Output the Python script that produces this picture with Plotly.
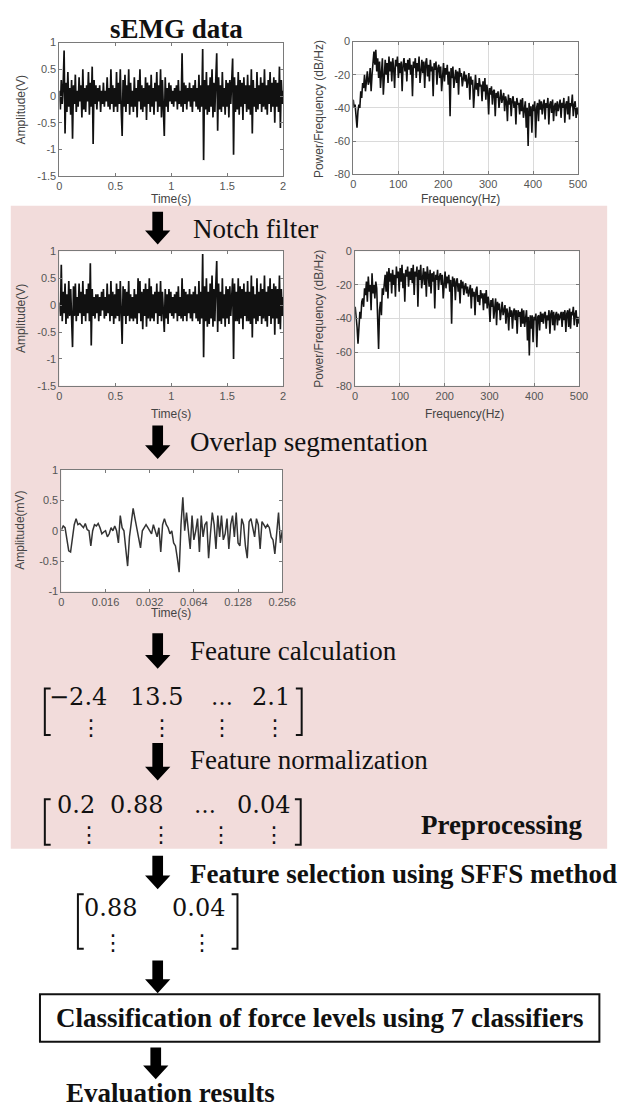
import numpy as np
import plotly.graph_objects as go

W, H = 627, 1111

# ---------------- data ----------------
raw_amplitude = [
    0.1, -0.25, 0.3, -0.15, 0.2, 0.85, -0.7, 0.25, -0.3, 0.45, -0.2, 0.15, -0.35, 0.3, -0.8, 0.2, -0.15, 0.4, -0.3, 0.1,
    -0.2, 0.35, -0.1, 0.2, -0.4, 0.5, -0.25, 0.15, -0.3, 0.2, -0.1, 0.45, -0.35, 0.25, -0.2, 0.55, -0.9, 0.3, -0.15, 0.2,
    -0.25, 0.15, -0.1, 0.2, -0.3, 0.1, -0.15, 0.25, -0.2, 0.1, -0.1, 0.35, -0.2, 0.15, -0.25, 0.5, -0.15, 0.2, -0.3, 0.15,
    -0.2, 0.45, -0.3, 0.25, -0.15, 0.5, -0.25, -0.75, 0.3, -0.2, 0.4, -0.3, 0.2, -0.15, 0.5, -0.35, 0.25, -0.2, 0.1, -0.3,
    0.35, -0.2, 0.15, -0.4, 0.3, -0.1, 0.5, -0.25, 0.2, -0.3, 0.15, -0.2, 0.35, -0.45, 0.25, -0.15, 0.2, -0.3, 0.4, -0.2,
    0.15, -0.35, 0.25, -0.1, 0.45, -0.3, 0.2, -0.2, 0.5, -0.4, 0.3, -0.25, -0.75, 0.35, -0.2, 0.15, -0.3, 0.25, -0.1, 0.2,
    -0.15, 0.1, -0.2, 0.15, -0.1, 0.2, -0.25, 0.3, -0.15, 0.1, -0.2, 0.8, -0.3, 0.25, -0.15, 0.2, -0.25, 0.15, -0.1, 0.25,
    -0.2, 0.15, -0.3, 0.2, -0.1, 0.3, -0.2, 0.15, -0.25, 0.4, -0.3, 0.2, -0.2, 0.88, -1.2, 0.3, -0.25, 0.45, -0.35, 0.2,
    -0.3, 0.35, -0.2, 0.5, -0.4, 0.25, -0.3, 0.3, 0.8, -0.65, 0.35, -0.25, 0.2, -0.3, 0.45, -0.2, 0.15, -0.35, 0.3, -0.2,
    0.25, -0.4, 0.3, -0.15, 0.2, 0.7, -1.1, 0.35, -0.3, 0.2, -0.25, 0.45, -0.35, 0.3, -0.2, 0.25, -0.45, 0.35, -0.15, 0.2,
    -0.3, 0.4, -0.25, 0.2, -0.35, 0.5, -0.7, 0.3, -0.2, 0.15, -0.3, 0.45, -0.25, 0.2, -0.15, 0.35, -0.3, 0.25, -0.2, 0.5,
    -0.25, 0.2, -0.35, 0.3, -0.15, 0.45, -0.3, 0.25, -0.2, 0.35, -0.5, 0.3, -0.2, 0.25, -0.3, 0.55, -0.6, 0.3, -0.15, 0.1,
]

filtered_amplitude = [
    0.05, -0.2, 0.75, -0.3, 0.25, -0.15, 0.4, -0.35, 0.2, -0.25, 0.45, -0.2, 0.3, -0.25, -0.78, 0.35, -0.2, 0.4, -0.3, 0.15,
    -0.2, 0.4, -0.15, 0.25, -0.35, 0.45, -0.2, 0.2, -0.3, 0.3, -0.15, 0.4, -0.3, 0.78, -0.75, 0.3, -0.2, 0.15, -0.25, 0.2,
    -0.15, 0.2, -0.3, 0.15, -0.2, 0.25, -0.1, 0.3, -0.25, 0.15, -0.2, 0.4, -0.15, 0.2, -0.3, 0.45, -0.2, 0.25, -0.35, 0.2,
    -0.25, 0.4, -0.2, 0.3, -0.3, 0.45, -0.25, -0.72, 0.35, -0.2, 0.3, -0.35, 0.25, -0.2, 0.45, -0.3, 0.2, -0.25, 0.15, -0.3,
    0.3, -0.25, 0.2, -0.35, 0.5, -0.15, 0.45, -0.3, 0.25, -0.45, 0.3, -0.2, 0.4, -0.4, 0.3, -0.25, 0.5, -0.3, 0.35, -0.25,
    0.2, -0.3, 0.25, -0.15, 0.4, -0.35, 0.25, -0.2, 0.45, -0.3, 0.25, -0.3, -0.5, 0.3, -0.25, 0.2, -0.35, 0.3, -0.15, 0.25,
    -0.2, 0.15, -0.25, 0.2, -0.15, 0.25, -0.3, 0.35, -0.2, 0.15, -0.25, 0.5, -0.3, 0.3, -0.2, 0.25, -0.3, 0.2, -0.15, 0.3,
    -0.25, 0.2, -0.3, 0.25, -0.15, 0.35, -0.25, 0.2, -0.3, 0.45, -0.35, 0.25, -0.25, 0.95, -0.97, 0.35, -0.3, 0.5, -0.4, 0.25,
    -0.35, 0.4, -0.25, 0.55, -0.4, 0.3, -0.3, 0.35, 0.82, -0.5, 0.4, -0.3, 0.25, -0.35, 0.5, -0.25, 0.2, -0.4, 0.35, -0.25,
    0.3, -0.35, 0.35, -0.2, 0.25, 0.5, -1.0, 0.4, -0.3, 0.25, -0.3, 0.5, -0.35, 0.35, -0.25, 0.3, -0.45, 0.4, -0.2, 0.25,
    -0.3, 0.45, -0.3, 0.25, -0.35, 0.55, -0.6, 0.35, -0.25, 0.2, -0.35, 0.5, -0.3, 0.25, -0.2, 0.4, -0.35, 0.3, -0.25, 0.55,
    -0.3, 0.25, -0.4, 0.35, -0.2, 0.5, -0.35, 0.3, -0.25, 0.4, -0.55, 0.35, -0.25, 0.3, -0.35, 0.55, -0.45, 0.3, -0.2, 0.15,
]

raw_psd = [
    -35, -40, -38, -48, -52, -42, -38, -40, -30, -34, -25, -28, -20, -30, -22, -18, -26, -24, -16, -30,
    -20, -12, -6, -14, -5, -18, -10, -22, -12, -28, -14, -10, -32, -15, -11, -20, -13, -25, -9, -18,
    -12, -24, -10, -16, -28, -11, -15, -9, -22, -13, -19, -12, -30, -14, -10, -18, -13, -24, -11, -17,
    -10, -20, -14, -33, -12, -16, -10, -22, -13, -18, -9, -25, -14, -11, -19, -12, -28, -13, -10, -21,
    -14, -24, -11, -18, -15, -33, -13, -17, -12, -26, -16, -14, -22, -15, -30, -17, -13, -24, -16, -20,
    -14, -26, -18, -45, -16, -22, -15, -28, -19, -17, -25, -18, -32, -16, -21, -19, -27, -20, -18, -24,
    -20, -28, -22, -19, -35, -21, -26, -23, -40, -24, -20, -29, -25, -33, -22, -27, -26, -36, -24, -30,
    -22, -35, -26, -30, -44, -28, -32, -27, -38, -30, -29, -45, -31, -34, -30, -40, -32, -29, -37, -33,
    -31, -42, -33, -36, -48, -32, -38, -34, -45, -35, -33, -40, -36, -50, -34, -38, -37, -44, -35, -42,
    -34, -46, -38, -36, -52, -40, -63, -37, -45, -39, -55, -38, -42, -36, -58, -40, -37, -48, -35, -41,
    -36, -44, -38, -35, -47, -37, -40, -34, -50, -38, -36, -43, -35, -48, -39, -37, -45, -36, -42, -38,
    -35, -46, -37, -40, -34, -49, -38, -36, -44, -33, -47, -37, -39, -32, -45, -38, -36, -46, -40, -44,
]

filtered_psd = [
    -33, -38, -45, -55, -42, -36, -40, -30, -28, -33, -22, -26, -18, -30, -15, -24, -20, -35, -13, -25,
    -20, -28, -18, -22, -40, -58, -35, -30, -38, -22, -26, -20, -14, -24, -12, -28, -10, -18, -13, -25,
    -11, -20, -14, -27, -9, -16, -12, -24, -10, -18, -8, -22, -13, -30, -11, -15, -9, -21, -12, -17,
    -10, -19, -8, -26, -12, -15, -9, -33, -11, -17, -8, -22, -13, -10, -20, -12, -27, -9, -14, -21,
    -11, -25, -13, -18, -12, -34, -14, -17, -11, -23, -15, -13, -20, -14, -28, -16, -12, -22, -15, -19,
    -14, -24, -17, -43, -15, -21, -16, -29, -18, -16, -24, -19, -31, -17, -22, -18, -26, -21, -19, -25,
    -21, -27, -23, -20, -34, -22, -27, -24, -38, -23, -21, -30, -26, -32, -23, -28, -25, -35, -25, -31,
    -23, -34, -27, -31, -42, -29, -33, -28, -40, -31, -28, -44, -30, -35, -31, -41, -33, -30, -38, -34,
    -32, -43, -34, -37, -47, -33, -39, -35, -46, -36, -34, -41, -35, -49, -35, -39, -36, -45, -34, -43,
    -35, -45, -37, -35, -53, -39, -62, -38, -46, -38, -54, -39, -41, -37, -57, -39, -38, -47, -36, -42,
    -37, -43, -37, -36, -46, -38, -41, -35, -49, -37, -35, -44, -36, -47, -38, -36, -44, -37, -41, -39,
    -36, -45, -36, -41, -35, -48, -37, -35, -45, -34, -46, -36, -38, -33, -44, -37, -35, -45, -39, -43,
]

segment_amplitude = [
    0.02, 0.08, 0.05, -0.15, -0.33, -0.35, -0.1, 0.1, 0.2, 0.1,
    0.12, 0.08, 0.05, 0.12, 0.02, 0.0, -0.25, 0.0, 0.1, 0.08,
    0.12, 0.05, -0.05, -0.02, 0.0, -0.1, -0.05, 0.05, 0.0, 0.08,
    0.0, -0.2, 0.25, 0.05, 0.0, -0.3, -0.58, -0.1, 0.1, 0.37,
    0.2, 0.05, -0.1, -0.28, 0.0, 0.05, 0.1, 0.05, 0.0, -0.05,
    0.1, 0.0, -0.1, 0.05, -0.35, 0.1, 0.2, 0.1, 0.05, -0.05,
    0.0, -0.2, -0.25, -0.45, -0.68, 0.1, 0.55, 0.0, 0.3, 0.0,
    -0.3, 0.25, -0.15, 0.0, 0.2, -0.35, 0.25, -0.1, 0.1, 0.15,
    -0.45, -0.05, 0.3, 0.1, -0.3, 0.25, -0.1, 0.25, -0.15, -0.05,
    0.2, -0.3, 0.1, 0.25, -0.1, 0.3, -0.2, -0.25, 0.2, 0.1,
    -0.25, -0.45, 0.15, 0.2, 0.05, -0.1, 0.2, 0.1, -0.3, 0.15,
    0.1, 0.05, 0.1, 0.05, -0.1, -0.15, -0.38, 0.0, 0.3, -0.2,
    0.0,
]

time_ticks = [0, 0.5, 1, 1.5, 2]
time_ticktext = ["0", "0.5", "1", "1.5", "2"]
amp_ticks = [-1.5, -1, -0.5, 0, 0.5, 1]
amp_ticktext = ["-1.5", "-1", "-0.5", "0", "0.5", "1"]
freq_ticks = [0, 100, 200, 300, 400, 500]
freq_ticktext = ["0", "100", "200", "300", "400", "500"]
psd_ticks = [-80, -60, -40, -20, 0]
psd_ticktext = ["-80", "-60", "-40", "-20", "0"]
seg_ticks = [0, 1, 2, 3, 4, 5]
seg_ticktext = ["0", "0.016", "0.032", "0.064", "0.128", "0.256"]
seg_yticks = [-1, -0.5, 0, 0.5, 1]
seg_yticktext = ["-1", "-0.5", "0", "0.5", "1"]

matrix_features = ["\u22122.4", "13.5", "2.1"]
matrix_normalized = ["0.2", "0.88", "0.04"]
matrix_selected = ["0.88", "0.04"]

duration_s = 2.0
nyquist_hz = 500
time_raw = np.linspace(0, duration_s, len(raw_amplitude))
time_filt = np.linspace(0, duration_s, len(filtered_amplitude))
freq_raw = np.linspace(0, nyquist_hz, len(raw_psd))
freq_filt = np.linspace(0, nyquist_hz, len(filtered_psd))
seg_pos = np.linspace(0, 5, len(segment_amplitude))

# ---------------- helpers ----------------
SERIF = "Liberation Serif, Times New Roman, serif"
SANS = "Liberation Sans, Arial, sans-serif"
MATH = "DejaVu Serif, serif"


def px(x):
    return x / W


def py(y):
    return 1 - y / H


def axstyle(**kw):
    d = dict(showline=True, mirror="ticks", linecolor="#7a7a7a", linewidth=1,
             ticks="inside", ticklen=3, tickcolor="#7a7a7a",
             tickfont=dict(family=SANS, size=11, color="#555555"),
             zeroline=False, showgrid=False, fixedrange=True)
    d.update(kw)
    return d


fig = go.Figure()
line_time = dict(color="#111111", width=1.7)
line_psd = dict(color="#111111", width=1.6)
fig.add_trace(go.Scatter(x=time_raw, y=raw_amplitude, mode="lines", line=line_time, xaxis="x", yaxis="y", hoverinfo="skip"))
fig.add_trace(go.Scatter(x=freq_raw, y=raw_psd, mode="lines", line=line_psd, xaxis="x2", yaxis="y2", hoverinfo="skip"))
fig.add_trace(go.Scatter(x=time_filt, y=filtered_amplitude, mode="lines", line=line_time, xaxis="x3", yaxis="y3", hoverinfo="skip"))
fig.add_trace(go.Scatter(x=freq_filt, y=filtered_psd, mode="lines", line=line_psd, xaxis="x4", yaxis="y4", hoverinfo="skip"))
fig.add_trace(go.Scatter(x=seg_pos, y=segment_amplitude, mode="lines", line=dict(color="#333333", width=1.5),
                         xaxis="x5", yaxis="y5", hoverinfo="skip"))

boxes = {
    "A": (58, 288, 37, 172),
    "B": (360, 591, 36, 170),
    "C": (58, 288, 248, 384),
    "D": (362, 592, 248, 384),
    "E": (60, 287, 469, 592),
}


def xd(k):
    b = boxes[k]
    return [px(b[0]), px(b[1])]


def yd(k):
    b = boxes[k]
    return [py(b[3]), py(b[2])]


grid = dict(showgrid=True, gridcolor="#dadada", gridwidth=1)

layout = dict(
    width=W, height=H, margin=dict(l=0, r=0, t=0, b=0), autosize=False,
    paper_bgcolor="white", plot_bgcolor="white", showlegend=False,
    xaxis=axstyle(domain=xd("A"), anchor="y", range=[0, 2], tickvals=time_ticks, ticktext=time_ticktext),
    yaxis=axstyle(domain=yd("A"), anchor="x", range=[-1.5, 1], tickvals=amp_ticks, ticktext=amp_ticktext),
    xaxis2=axstyle(domain=xd("B"), anchor="y2", range=[0, 500], tickvals=freq_ticks, ticktext=freq_ticktext, **grid),
    yaxis2=axstyle(domain=yd("B"), anchor="x2", range=[-80, 0], tickvals=psd_ticks, ticktext=psd_ticktext, **grid),
    xaxis3=axstyle(domain=xd("C"), anchor="y3", range=[0, 2], tickvals=time_ticks, ticktext=time_ticktext),
    yaxis3=axstyle(domain=yd("C"), anchor="x3", range=[-1.5, 1], tickvals=amp_ticks, ticktext=amp_ticktext),
    xaxis4=axstyle(domain=xd("D"), anchor="y4", range=[0, 500], tickvals=freq_ticks, ticktext=freq_ticktext, **grid),
    yaxis4=axstyle(domain=yd("D"), anchor="x4", range=[-80, 0], tickvals=psd_ticks, ticktext=psd_ticktext, **grid),
    xaxis5=axstyle(domain=xd("E"), anchor="y5", range=[0, 5], tickvals=seg_ticks, ticktext=seg_ticktext),
    yaxis5=axstyle(domain=yd("E"), anchor="x5", range=[-1, 1], tickvals=seg_yticks, ticktext=seg_yticktext),
)
fig.update_layout(**layout)

shapes = []
# pink preprocessing region
shapes.append(dict(type="rect", xref="paper", yref="paper", x0=px(8), x1=px(621), y0=py(852), y1=py(202),
                   fillcolor="#F2DCDB", line=dict(width=0), layer="below"))
# white plot backgrounds
for k, b in boxes.items():
    shapes.append(dict(type="rect", xref="paper", yref="paper", x0=px(b[0]), x1=px(b[1]), y0=py(b[3]), y1=py(b[2]),
                       fillcolor="white", line=dict(width=0), layer="below"))


def arrow(cx, top, bottom, sw=5.5, hw=13, hh=14):
    pts = [(cx - sw, top), (cx + sw, top), (cx + sw, bottom - hh), (cx + hw, bottom - hh), (cx, bottom),
           (cx - hw, bottom - hh), (cx - sw, bottom - hh)]
    path = "M " + " L ".join(f"{px(x):.5f},{py(y):.5f}" for x, y in pts) + " Z"
    return dict(type="path", xref="paper", yref="paper", path=path, fillcolor="black", line=dict(width=0))


for cx, t, b in [(159, 208, 241), (159, 424, 458), (159, 634, 670), (159, 745, 783),
                 (159, 859, 893), (159, 965, 998), (157, 1053, 1085)]:
    shapes.append(arrow(cx, t, b))


def bracket(xv, top, bottom, serif):
    pts = [(xv + serif, top), (xv, top), (xv, bottom), (xv + serif, bottom)]
    path = "M " + " L ".join(f"{px(x):.5f},{py(y):.5f}" for x, y in pts)
    return dict(type="path", xref="paper", yref="paper", path=path, line=dict(color="#111111", width=2))


for lx, rx, t, b in [(43, 307, 690, 737), (43, 306, 802, 848), (77, 241, 898, 953)]:
    shapes.append(bracket(lx, t, b, 6))
    shapes.append(bracket(rx, t, b, -6))

# classification box
shapes.append(dict(type="rect", xref="paper", yref="paper", x0=px(38), x1=px(613), y0=py(1047), y1=py(999),
                   line=dict(color="#111111", width=2), fillcolor="rgba(0,0,0,0)"))
fig.update_layout(shapes=shapes)

ann = []


def text(x, y, s, size=27, family=SERIF, xanchor="left", color="#111111", angle=0):
    ann.append(dict(x=px(x), y=py(y), xref="paper", yref="paper", text=s, showarrow=False,
                    xanchor=xanchor, yanchor="middle", textangle=angle,
                    font=dict(family=family, size=size, color=color)))


# flow labels
text(178, 23, "<b>sEMG data</b>", xanchor="center")
text(193, 225, "Notch filter")
text(190, 441, "Overlap segmentation")
text(190, 652, "Feature calculation")
text(190, 762, "Feature normalization")
text(597, 828, "<b>Preprocessing</b>", xanchor="right")
text(190, 877, "<b>Feature selection using SFFS method</b>")
text(325, 1023, "<b>Classification of force levels using 7 classifiers</b>", xanchor="center")
text(63, 1099, "<b>Evaluation results</b>")

# axis titles
AX = dict(size=12, family=SANS, color="#444444")
text(173, 195, "Time(s)", xanchor="center", **AX)
text(470, 195, "Frequency(Hz)", xanchor="center", **AX)
text(173, 412, "Time(s)", xanchor="center", **AX)
text(474, 412, "Frequency(Hz)", xanchor="center", **AX)
text(173, 614, "Time(s)", xanchor="center", **AX)
text(18, 105, "Amplitude(V)", xanchor="center", angle=-90, **AX)
text(325, 104, "Power/Frequency (dB/Hz)", xanchor="center", angle=-90, **AX)
text(18, 316, "Amplitude(V)", xanchor="center", angle=-90, **AX)
text(324, 316, "Power/Frequency (dB/Hz)", xanchor="center", angle=-90, **AX)
text(18, 530, "Amplitude(mV)", xanchor="center", angle=-90, **AX)

# matrices
M = dict(size=24, family=MATH)
D = dict(size=22, family="DejaVu Sans, sans-serif", xanchor="center")
for xr, s in zip([109, 187, 297], matrix_features):
    text(xr, 699, s, xanchor="right", **M)
text(225, 699, "\u2026", xanchor="center", size=22, family=MATH)
for xc in [90, 163, 225, 280]:
    text(xc, 729, "\u22ee", **D)

for xr, s in zip([97, 167, 297], matrix_normalized):
    text(xr, 808, s, xanchor="right", **M)
text(208, 808, "\u2026", xanchor="center", size=22, family=MATH)
for xc in [88, 162, 224, 279]:
    text(xc, 838, "\u22ee", **D)

for xr, s in zip([140, 230], matrix_selected):
    text(xr, 912, s, xanchor="right", **M)
for xc in [113, 205]:
    text(xc, 947, "\u22ee", **D)

fig.update_layout(annotations=ann)
fig.write_html("out.html")
